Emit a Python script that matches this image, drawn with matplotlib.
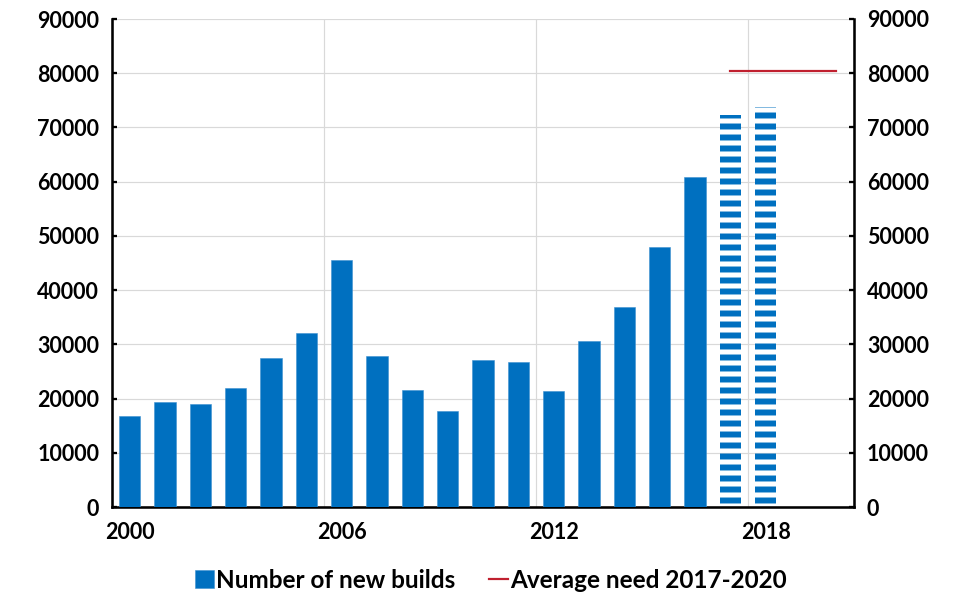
import matplotlib
matplotlib.use("Agg")
import matplotlib.pyplot as plt
import numpy as np

# Housing data
years = list(range(2000, 2021))
new_builds = [16800, 19400, 19000, 22000, 27400, 32000, 45600, 27900, 21500, 17700,
              27200, 26700, 21400, 30600, 36800, 48000, 60800, 72300, 73800]
projected_years = [2017, 2018]
need_years = [2017, 2020]
need_value = [80400, 80400]
xtick_labels = ["2000", "2006", "2012", "2018"]

BLUE = "#0070C0"
RED = "#C0202F"
DPI = 66
WEIGHT = "bold"
TICK_SIZE = 23.5

plt.rcParams["font.family"] = ["Lato", "DejaVu Sans"]
plt.rcParams["font.weight"] = WEIGHT
plt.rcParams["hatch.linewidth"] = 6.5

fig = plt.figure(figsize=(958 / DPI, 595 / DPI), dpi=DPI)
ax = fig.add_axes([112 / 958, 1 - 507 / 595, (854 - 112) / 958, (507 - 19) / 595])

pos = {y: i for i, y in enumerate(years)}
bar_years = years[:len(new_builds)]
solid_x = [pos[y] for y in bar_years if y not in projected_years]
solid_v = [v for y, v in zip(bar_years, new_builds) if y not in projected_years]
proj_x = [pos[y] for y in bar_years if y in projected_years]
proj_v = [v for y, v in zip(bar_years, new_builds) if y in projected_years]

bars = ax.bar(solid_x, solid_v, width=0.6, color=BLUE, edgecolor="#3d8fd0", linewidth=0.6,
              zorder=3, label="Number of new builds")
ax.bar(proj_x, proj_v, width=0.6, facecolor="none", edgecolor=BLUE, hatch="-",
       linewidth=0, zorder=3)
need_line, = ax.plot([pos[y] for y in need_years], need_value, color=RED, lw=2.4, zorder=4,
                     label="Average need 2017-2020")

ax.set_xlim(-0.5, len(years) - 0.5)
ax.set_ylim(0, 90000)
yt = np.arange(0, 90001, 10000)
ax.set_yticks(yt)
ax.set_yticklabels([str(v) for v in yt])

ax.set_xticks([pos[int(t)] for t in xtick_labels])
ax.set_xticklabels(xtick_labels)
ax.set_xticks([pos[int(t)] - 0.5 for t in xtick_labels], minor=True)
ax.tick_params(axis="x", which="both", length=0, pad=16, labelsize=TICK_SIZE)
ax.tick_params(axis="y", direction="in", length=5, width=2.5, labelsize=TICK_SIZE, pad=14)

ax.grid(axis="y", color="#d9d9d9", lw=1.3, zorder=0)
ax.grid(axis="x", which="minor", color="#d9d9d9", lw=1.3, zorder=0)
ax.set_axisbelow(True)

for s in ["left", "bottom"]:
    ax.spines[s].set_linewidth(2.8)
ax.spines["top"].set_visible(False)
ax.spines["right"].set_visible(False)

ax2 = ax.twinx()
ax2.set_ylim(ax.get_ylim())
ax2.set_yticks(yt)
ax2.set_yticklabels([str(v) for v in yt])
ax2.tick_params(axis="y", direction="in", length=5, width=2.5, labelsize=TICK_SIZE, pad=14)
for s in ["left", "bottom", "top"]:
    ax2.spines[s].set_visible(False)
ax2.spines["right"].set_linewidth(2.8)

for lbl in ax.get_xticklabels() + ax.get_yticklabels() + ax2.get_yticklabels():
    lbl.set_fontweight(WEIGHT)

leg = fig.legend([bars, need_line], ["Number of new builds", "Average need 2017-2020"],
                 loc="center", bbox_to_anchor=(491 / 958, 1 - 580 / 595), ncol=2,
                 frameon=False, prop={"size": 26.5, "weight": WEIGHT}, handlelength=0.75,
                 handleheight=0.7, handletextpad=0.1, columnspacing=1.4)

fig.savefig("out.png", dpi=DPI)
